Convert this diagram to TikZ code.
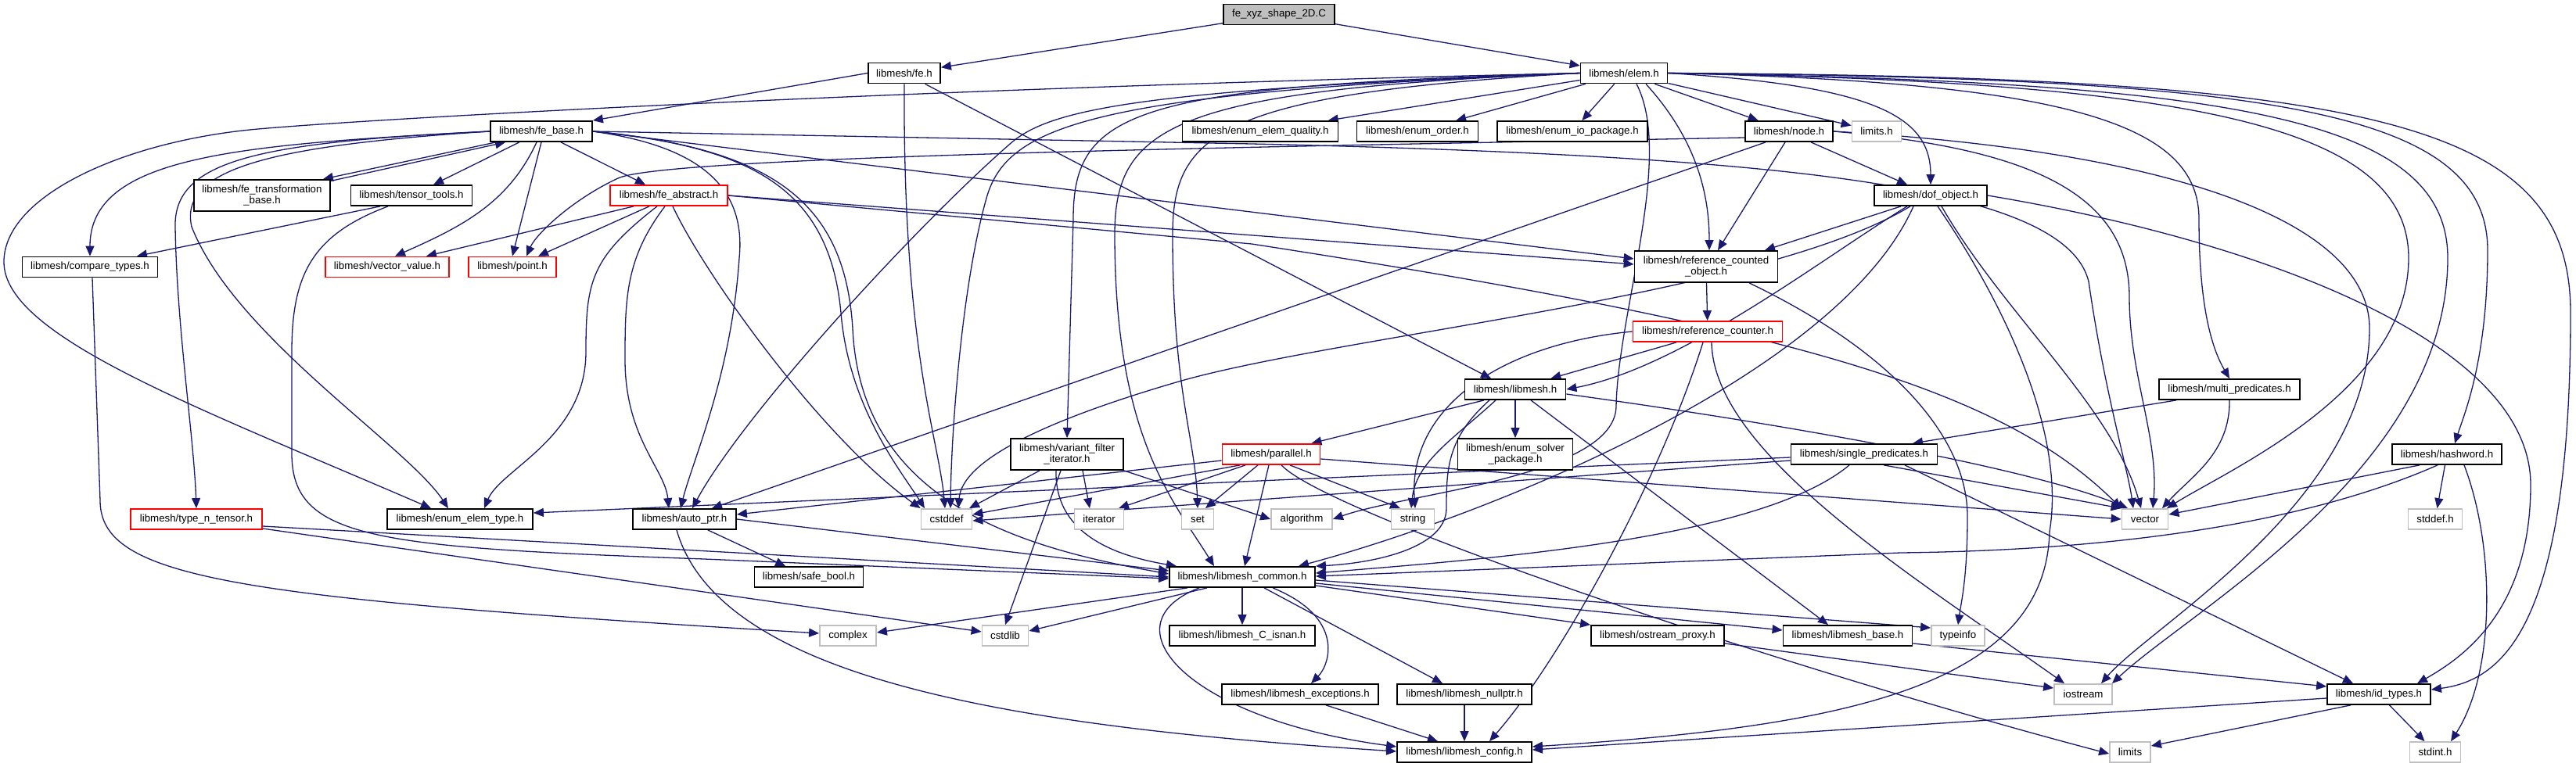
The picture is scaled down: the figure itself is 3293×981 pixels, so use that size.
\documentclass[tikz,border=0pt]{standalone}
\usepackage{fontspec}
\setmainfont{Liberation Sans}
\usepackage{tikz}
\usetikzlibrary{arrows.meta, backgrounds}
\usepackage{xcolor}
\definecolor{incblue}{RGB}{25, 25, 112}
\definecolor{sysgray}{RGB}{191, 191, 191}

\begin{document}
\begin{tikzpicture}[x=1pt, y=-1pt, font=\fontsize{13.3}{14}\selectfont,
  hdr/.style={draw=black, line width=1.8pt, fill=white, minimum height=26pt, inner sep=0pt, align=center},
  redhdr/.style={hdr, draw=red},
  syshdr/.style={hdr, draw=sysgray},
  tall/.style={minimum height=40pt},
  inc/.style={draw=incblue, line width=1.3pt, -{Triangle[length=13pt, width=11pt]}}]
  \useasboundingbox (0,0) rectangle (3293,981);

  % source file and project headers
  \node[hdr, fill=sysgray, minimum width=142pt] (xyz) at (1635,18.5) {fe\_xyz\_shape\_2D.C};
  \node[hdr, minimum width=92pt]  (feh)   at (1156,93.5) {libmesh/fe.h};
  \node[hdr, minimum width=111pt] (elemh) at (2076,93.5) {libmesh/elem.h};
  \node[hdr, minimum width=130pt] (febase)  at (692,168)  {libmesh/fe\_base.h};
  \node[hdr, minimum width=199pt] (quality) at (1611,168) {libmesh/enum\_elem\_quality.h};
  \node[hdr, minimum width=155pt] (order)   at (1812,168) {libmesh/enum\_order.h};
  \node[hdr, minimum width=192pt] (iopkg)   at (2010,168) {libmesh/enum\_io\_package.h};
  \node[hdr, minimum width=112pt] (nodeh)   at (2287,168) {libmesh/node.h};
  \node[hdr, tall, minimum width=174pt] (fetrans) at (335,250) {libmesh/fe\_transformation\\\_base.h};
  \node[hdr, minimum width=155pt]    (tensor) at (526,250)  {libmesh/tensor\_tools.h};
  \node[redhdr, minimum width=150pt] (feabs)  at (855,250)  {libmesh/fe\_abstract.h};
  \node[hdr, minimum width=144pt]    (dof)    at (2468,250) {libmesh/dof\_object.h};
  \node[hdr, minimum width=173pt]    (compare) at (115,341.5) {libmesh/compare\_types.h};
  \node[redhdr, minimum width=158pt] (vecval)  at (495,341.5) {libmesh/vector\_value.h};
  \node[redhdr, minimum width=112pt] (point)   at (655,341.5) {libmesh/point.h};
  \node[hdr, tall, minimum width=183pt] (refcobj) at (2181,341) {libmesh/reference\_counted\\\_object.h};
  \node[redhdr, minimum width=191pt] (refcnt) at (2183,424) {libmesh/reference\_counter.h};
  \node[hdr, minimum width=129pt] (libmeshh)  at (1937,498) {libmesh/libmesh.h};
  \node[hdr, minimum width=180pt] (multipred) at (2850,498) {libmesh/multi\_predicates.h};
  \node[hdr, tall, minimum width=144pt] (varfilt) at (1364,581) {libmesh/variant\_filter\\\_iterator.h};
  \node[redhdr, minimum width=125pt] (parallel) at (1625,581) {libmesh/parallel.h};
  \node[hdr, tall, minimum width=147pt] (solver) at (1937,581) {libmesh/enum\_solver\\\_package.h};
  \node[hdr, minimum width=187pt] (singlepred) at (2383,581) {libmesh/single\_predicates.h};
  \node[hdr, minimum width=140pt] (hashword)   at (3128,581) {libmesh/hashword.h};
  \node[redhdr, minimum width=168pt] (typetensor) at (251,664) {libmesh/type\_n\_tensor.h};
  \node[hdr, minimum width=186pt] (elemtype) at (588,664) {libmesh/enum\_elem\_type.h};
  \node[hdr, minimum width=132pt] (autoptr)  at (875,664) {libmesh/auto\_ptr.h};
  \node[hdr, minimum width=139pt] (safebool) at (1034,738) {libmesh/safe\_bool.h};
  \node[hdr, minimum width=186pt] (common)   at (1588,738) {libmesh/libmesh\_common.h};
  \node[hdr, minimum width=186pt] (cisnan)   at (1588,813) {libmesh/libmesh\_C\_isnan.h};
  \node[hdr, minimum width=170pt] (ostream)  at (2119,813) {libmesh/ostream\_proxy.h};
  \node[hdr, minimum width=165pt] (base)     at (2362,813) {libmesh/libmesh\_base.h};
  \node[hdr, minimum width=200pt] (exceptions) at (1662,888) {libmesh/libmesh\_exceptions.h};
  \node[hdr, minimum width=172pt] (nullptr)  at (1872,888) {libmesh/libmesh\_nullptr.h};
  \node[hdr, minimum width=132pt] (idtypes)  at (3041,888) {libmesh/id\_types.h};
  \node[hdr, minimum width=172pt] (config)   at (1872,962) {libmesh/libmesh\_config.h};

  % system headers
  \foreach \nm/\x/\y/\w/\txt in {limitsh/2399/168/63/limits.h, cstddef/1210/664/65/cstddef,
      iterator/1405/664/63/iterator, set/1531/664/41/set, algorithm/1664/664/78/algorithm,
      string/1806/664/55/string, vector/2742/664/59/vector, stddefh/3113/664/69/stddef.h,
      complex/1084/813/72/complex, cstdlib/1285/813/59/cstdlib, typeinfo/2503/813/68/typeinfo,
      iostream/2663/888/74/iostream, limits/2723/962/52/limits, stdint/3113/962/65/stdint.h} {
    \node[syshdr, minimum width=\w pt] (\nm) at (\x,\y) {\txt};
  }

  \begin{pgfonlayer}{background}
  % plain includes
  \foreach \a/\b in {xyz/feh, xyz/elemh, elemh/quality, elemh/order, elemh/iopkg,
                     elemh/nodeh, elemh/limitsh, febase/tensor, refcobj/refcnt,
                     libmeshh/solver, autoptr/safebool, common/cisnan,
                     hashword/stddefh, nullptr/config, idtypes/stdint} {
    \draw[inc] (\a) -- (\b);
  }

  % fe.h
  \draw[inc] (feh.west) -- (febase.north east);
  \draw[inc] (feh.south) .. controls (1154,450) and (1200,560) .. ([xshift=-2pt]cstddef.north);
  \draw[inc] (feh) -- ([xshift=-31pt]libmeshh.north);

  % elem.h, left side
  \draw[inc] (elemh.west) .. controls (1200,112) and (500,150) .. (330,165)
    .. controls (160,180) and (5,250) .. (5,335)
    .. controls (5,430) and (250,520) .. ([xshift=-37pt]elemtype.north);
  \draw[inc] (elemh.west) .. controls (1450,110) and (1372,140) .. (1372,280) -- (varfilt.north);
  \draw[inc] (elemh.west) .. controls (1500,115) and (1425,160) .. (1425,300)
    .. controls (1425,560) and (1500,640) .. ([xshift=-36pt]common.north);
  \draw[inc] (elemh.west) .. controls (1560,120) and (1499,170) .. (1499,300)
    .. controls (1499,500) and (1528,560) .. (set.north);
  \draw[inc] (elemh.west) .. controls (1450,115) and (1340,140) .. (1290,185)
    .. controls (1170,290) and (950,530) .. ([xshift=10pt]autoptr.north);
  \draw[inc] (elemh.west) .. controls (1400,118) and (1290,160) .. (1262,250)
    .. controls (1230,360) and (1216,550) .. ([xshift=5pt]cstddef.north);
  \draw[inc] ([xshift=16pt]elemh.south) .. controls (2140,200) and (2068,400) .. (2066,520)
    .. controls (2064,610) and (1800,630) .. (algorithm.east);
  \draw[inc] ([xshift=28pt]elemh.south) .. controls (2170,180) and (2185,250) .. ([xshift=4pt]refcobj.north);

  % elem.h, right side
  \draw[inc] (elemh.east) .. controls (2400,110) and (2468,150) .. (dof.north);
  \draw[inc] (elemh.east) .. controls (2650,105) and (2811,160) .. (2811,280)
    .. controls (2811,400) and (2830,450) .. (multipred.north);
  \draw[inc] (elemh.east) .. controls (2900,100) and (3180,140) .. (3180,320)
    .. controls (3180,460) and (3150,530) .. ([xshift=10pt]hashword.north);
  \draw[inc] (elemh.east) .. controls (3050,98) and (3286,160) .. (3286,400)
    .. controls (3286,800) and (3200,870) .. ([yshift=6pt]idtypes.east);
  \draw[inc] (elemh.east) .. controls (2850,105) and (3129,150) .. (3129,330)
    .. controls (3129,600) and (2800,780) .. ([xshift=37pt]iostream.north);
  \draw[inc] (elemh.east) .. controls (2800,105) and (3079,160) .. (3079,330)
    .. controls (3079,500) and (2850,600) .. ([xshift=28pt]vector.north);

  % fe_base.h
  \draw[inc] ([xshift=8pt]febase.south west) -- ([xshift=-10pt]fetrans.north east);
  \draw[inc] ([xshift=-3pt,yshift=-3pt]fetrans.north east) -- ([xshift=20pt]febase.south west);
  \draw[inc] (febase.west) .. controls (300,185) and (115,200) .. (compare.north);
  \draw[inc] (febase.west) .. controls (330,182) and (222,205) .. (224,290)
    .. controls (226,420) and (248,560) .. (typetensor.north);
  \draw[inc] (febase.west) .. controls (350,186) and (228,215) .. (245,290)
    .. controls (300,430) and (520,570) .. ([xshift=-15pt]elemtype.north);
  \draw[inc] ([xshift=-6pt]febase.south) .. controls (650,260) and (590,290) .. ([xshift=10pt]vecval.north);
  \draw[inc] (febase.south) -- (point.north);
  \draw[inc] ([xshift=25pt]febase.south) -- ([xshift=-30pt]feabs.north);
  \draw[inc] (febase.east) .. controls (880,185) and (955,230) .. (945,330)
    .. controls (935,480) and (885,590) .. ([xshift=-5pt]autoptr.north);
  \draw[inc] (febase.east) .. controls (960,188) and (1060,240) .. (1075,400)
    .. controls (1085,520) and (1150,600) .. ([xshift=-28pt]cstddef.north);
  \draw[inc] (febase.east) .. controls (990,190) and (1080,260) .. (1090,420)
    .. controls (1100,640) and (1300,700) .. ([yshift=4pt]common.west);
  \draw[inc] (febase.east) -- ([yshift=10pt]refcobj.west);
  \draw[inc] (febase.east) -- (1600,184) .. controls (2300,200) and (2640,240) .. (2670,360)
    .. controls (2690,500) and (2720,600) .. ([xshift=-15pt]vector.north);

  % tensor_tools.h, fe_abstract.h
  \draw[inc] ([xshift=-40pt]tensor.south) -- ([xshift=60pt]compare.north);
  \draw[inc] ([xshift=-30pt]tensor.south) .. controls (400,300) and (373,350) .. (373,450)
    -- (373,580) .. controls (373,690) and (480,700) .. (900,715) -- ([yshift=-2pt]common.west);
  \draw[inc] ([xshift=-45pt]feabs.south) -- ([xshift=50pt]vecval.north);
  \draw[inc] ([xshift=-25pt]feabs.south) -- ([xshift=33pt]point.north);
  \draw[inc] ([xshift=-15pt]feabs.south) .. controls (755,330) and (749,360) .. (749,450)
    .. controls (749,560) and (640,600) .. ([xshift=31pt]elemtype.north);
  \draw[inc] ([xshift=-5pt]feabs.south) .. controls (800,330) and (799,380) .. (799,460)
    .. controls (799,560) and (850,600) .. ([xshift=-20pt]autoptr.north);
  \draw[inc] ([xshift=5pt]feabs.south) .. controls (900,350) and (1050,560) .. (cstddef.north west);
  \draw[inc] (feabs.east) -- ([yshift=3pt]refcobj.west);
  \draw[inc] (feabs.east) -- (1600,312) .. controls (2300,420) and (2560,500) .. (vector.north west);

  % compare_types.h, type_n_tensor.h, auto_ptr.h
  \draw[inc] ([xshift=3pt]compare.south) -- (128,640) .. controls (128,740) and (300,765) .. ([yshift=3pt]complex.west);
  \draw[inc] ([yshift=-9pt]typetensor.east) -- (common.west);
  \draw[inc] ([yshift=-12pt]typetensor.east) -- ([yshift=5pt]cstdlib.west);
  \draw[inc] (autoptr.east) -- ([yshift=8pt]common.west);
  \draw[inc] ([xshift=-10pt]autoptr.south) .. controls (920,870) and (1300,930) .. ([yshift=1pt]config.west);

  % variant_filter_iterator.h, parallel.h
  \draw[inc] ([xshift=-35pt]varfilt.south) -- ([xshift=29pt]cstddef.north);
  \draw[inc] ([xshift=20pt]varfilt.south) -- ([xshift=-12pt]iterator.north);
  \draw[inc] (varfilt.south east) -- (algorithm.west);
  \draw[inc] ([xshift=-8pt]varfilt.south) -- (cstdlib.north);
  \draw[inc] ([xshift=-14pt]varfilt.south) .. controls (1348,680) and (1420,710) .. ([xshift=-84pt]common.north);
  \draw[inc] ([yshift=-8pt]parallel.west) -- ([yshift=6pt]autoptr.east);
  \draw[inc] ([xshift=-40pt]parallel.south) -- ([yshift=6pt]cstddef.east);
  \draw[inc] ([xshift=-33pt]parallel.south) -- ([xshift=25pt]iterator.north);
  \draw[inc] ([xshift=-17pt]parallel.south) -- ([xshift=10pt]set.north);
  \draw[inc] ([xshift=-3pt]parallel.south) -- ([xshift=3pt]common.north);
  \draw[inc] ([xshift=24pt]parallel.south) -- ([xshift=-16pt]string.north);
  \draw[inc] ([yshift=-6pt]parallel.east) -- (vector.west);
  \draw[inc] ([xshift=13pt]parallel.south) .. controls (1700,660) and (2300,860) .. ([yshift=-2pt]limits.west);

  % libmesh.h, reference counting
  \draw[inc] ([xshift=-40pt]libmeshh.south) -- ([xshift=-12pt]parallel.north east);
  \draw[inc] ([xshift=-25pt]libmeshh.south) .. controls (1860,560) and (1810,590) .. ([xshift=-2pt]string.north);
  \draw[inc] ([xshift=-33pt]libmeshh.south) .. controls (1850,560) and (1849,600) .. (1849,650)
    .. controls (1849,700) and (1760,720) .. (common.north east);
  \draw[inc] ([xshift=20pt]libmeshh.south) -- ([xshift=-25pt]base.north);
  \draw[inc] ([yshift=-6pt]libmeshh.east) .. controls (2300,545) and (2600,600) .. ([xshift=-22pt]vector.north);
  \draw[inc] ([xshift=-40pt]refcnt.south) -- ([xshift=-20pt]libmeshh.north east);
  \draw[inc] (refcnt.west) .. controls (1920,440) and (1800,520) .. ([xshift=3pt]string.north);
  \draw[inc] ([xshift=-6pt]refcnt.south) .. controls (2120,620) and (1990,850) .. ([xshift=32pt]config.north);
  \draw[inc] ([xshift=5pt]refcnt.south) .. controls (2190,580) and (2450,740) .. ([xshift=-24pt]iostream.north);
  \draw[inc] ([xshift=55pt]refcobj.south) .. controls (2420,450) and (2515,560) .. (2515,660)
    .. controls (2515,740) and (2507,770) .. (typeinfo.north);

  % node.h, dof_object.h
  \draw[inc] ([yshift=-8pt]nodeh.west) .. controls (1600,188) and (850,200) .. (790,228)
    .. controls (730,256) and (685,300) .. ([xshift=18pt]point.north);
  \draw[inc] ([xshift=-5pt]nodeh.south) -- ([xshift=15pt]refcobj.north);
  \draw[inc] ([xshift=28pt]nodeh.south) -- ([xshift=-30pt]dof.north);
  \draw[inc] ([xshift=-30pt]nodeh.south) -- ([xshift=35pt]autoptr.north);
  \draw[inc] (nodeh.east) .. controls (2800,195) and (3029,290) .. (3029,420)
    .. controls (3029,640) and (2750,800) .. ([xshift=23pt]iostream.north);
  \draw[inc] (nodeh.east) .. controls (2600,190) and (2722,250) .. (2722,380)
    .. controls (2722,480) and (2760,560) .. ([xshift=10pt]vector.north);
  \draw[inc] ([xshift=-38pt]dof.south) -- ([xshift=75pt]refcobj.north);
  \draw[inc] ([xshift=-30pt]dof.south) .. controls (2330,330) and (2150,470) .. (libmeshh.east);
  \draw[inc] ([xshift=-22pt]dof.south) .. controls (2350,480) and (1900,660) .. ([xshift=72pt]common.north);
  \draw[inc] ([xshift=-26pt]dof.south) .. controls (2250,380) and (1700,430) .. (1500,490)
    .. controls (1330,540) and (1230,590) .. ([xshift=15pt]cstddef.north);
  \draw[inc] ([xshift=9pt]dof.south) .. controls (2570,400) and (2640,560) .. (2620,680)
    .. controls (2615,880) and (2350,930) .. ([yshift=7pt]config.east);
  \draw[inc] ([xshift=14pt]dof.south) .. controls (2560,400) and (2700,520) .. ([xshift=-5pt]vector.north);
  \draw[inc] (dof.east) .. controls (2900,310) and (3235,440) .. (3235,620)
    .. controls (3235,780) and (3150,840) .. ([xshift=49pt]idtypes.north);

  % predicates, hashword.h
  \draw[inc] ([xshift=-68pt]multipred.south) -- ([xshift=62pt]singlepred.north);
  \draw[inc] (multipred.south) .. controls (2851,580) and (2800,610) .. ([xshift=22pt]vector.north);
  \draw[inc] ([yshift=-4pt]singlepred.west) -- ([yshift=8pt]elemtype.east);
  \draw[inc] ([yshift=-8pt]singlepred.west) -- ([yshift=-2pt]cstddef.east);
  \draw[inc] ([xshift=-19pt]singlepred.south) .. controls (2250,690) and (1900,715) .. ([yshift=5pt]common.east);
  \draw[inc] ([xshift=25pt]singlepred.south) -- (vector.north west);
  \draw[inc] ([xshift=52pt]singlepred.south) -- ([xshift=-33pt]idtypes.north);
  \draw[inc] ([xshift=-35pt]hashword.south) -- ([yshift=6pt]vector.east);
  \draw[inc] ([xshift=-12pt]hashword.south) .. controls (2900,690) and (2600,705) .. (2430,707)
    -- ([yshift=1pt]common.east);
  \draw[inc] ([xshift=22pt]hashword.south) .. controls (3190,700) and (3190,860) .. ([xshift=20pt]stdint.north);

  % libmesh_common.h and below
  \draw[inc] ([xshift=-70pt]common.south) -- ([yshift=4pt]complex.east);
  \draw[inc] ([xshift=-45pt]common.south) -- ([yshift=6pt]cstdlib.east);
  \draw[inc] ([xshift=-55pt]common.south) .. controls (1410,800) and (1520,920) .. ([yshift=7pt]config.west);
  \draw[inc] ([xshift=39pt]common.south) .. controls (1720,790) and (1700,850) .. ([xshift=14pt]exceptions.north);
  \draw[inc] ([xshift=28pt]common.south) -- ([xshift=-28pt]nullptr.north);
  \draw[inc] ([yshift=-11pt]common.east) -- (ostream.north west);
  \draw[inc] ([yshift=-8pt]common.east) -- ([yshift=7pt]base.west);
  \draw[inc] ([yshift=-4pt]common.east) -- ([yshift=10pt]typeinfo.west);
  \draw[inc] ([yshift=-10pt]ostream.east) -- ([yshift=8pt]iostream.west);
  \draw[inc] ([yshift=-10pt]base.east) -- ([yshift=10pt]idtypes.west);
  \draw[inc] ([xshift=33pt]exceptions.south) -- ([xshift=-34pt]config.north);
  \draw[inc] ([xshift=-36pt]idtypes.south) -- ([yshift=8pt]limits.east);
  \draw[inc] ([yshift=-5pt]idtypes.west) -- ([yshift=3pt]config.east);
  \end{pgfonlayer}
\end{tikzpicture}
\end{document}
